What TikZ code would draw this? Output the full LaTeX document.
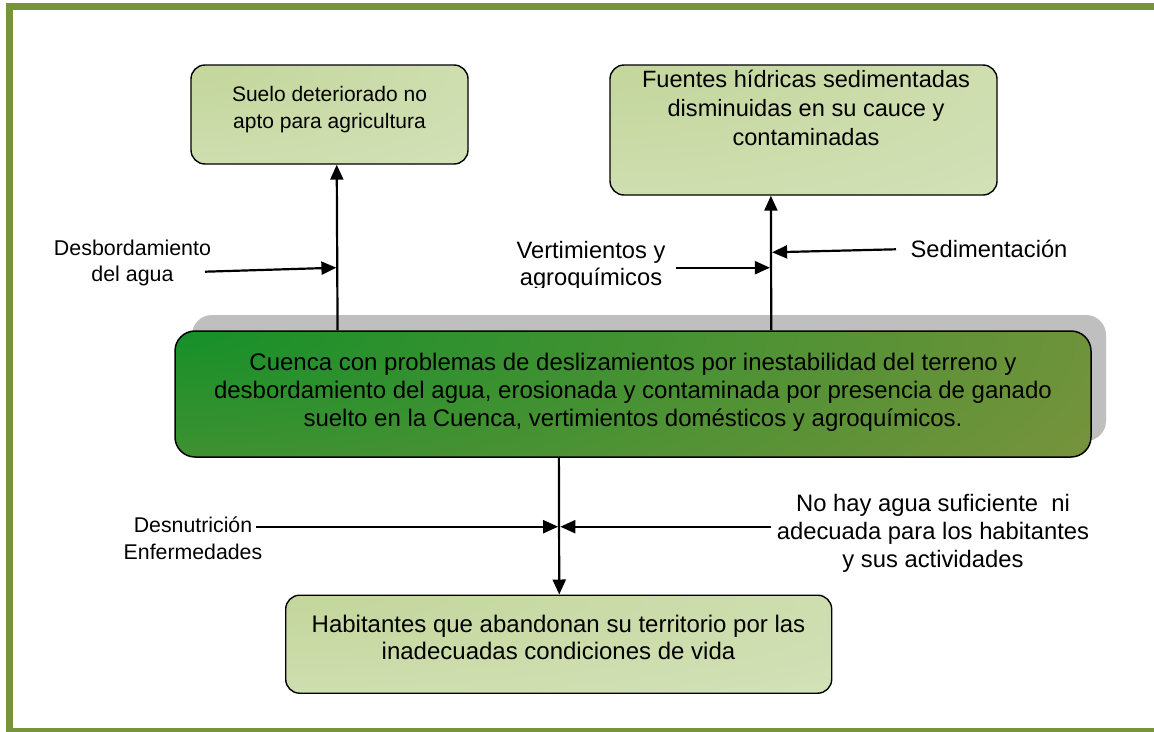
\documentclass[tikz,border=0pt]{standalone}
\usepackage{fontspec}
\setmainfont{Liberation Sans}
\usetikzlibrary{arrows.meta,calc}
\definecolor{frameg}{HTML}{77933C}
\definecolor{boxin}{HTML}{C3D69B}
\definecolor{boxout}{HTML}{DAE6C4}
\definecolor{mainin}{HTML}{169029}
\definecolor{mainout}{HTML}{77933C}
\definecolor{shadowg}{HTML}{BFBFBF}
\newcommand{\mytext}[3]{\parbox[t]{1000pt}{\centering\fontsize{#1}{#2}\selectfont #3}}
\tikzset{
  lightbox/.style args={#1 and #2}{draw=black, line width=1.4pt, rounded corners=14pt, inner sep=0pt,
    path picture={\shade[inner color=boxin, outer color=boxout]
      (path picture bounding box.north west) ellipse (#1 and #2);}},
  mainbox/.style={draw=black, line width=1.5pt, rounded corners=20pt, inner sep=0pt,
    path picture={\shade[inner color=mainin, outer color=mainout]
      (path picture bounding box.north west) ellipse (1000pt and 300pt);}},
  shadowbox/.style={fill=shadowg, rounded corners=20pt, inner sep=0pt},
  lbl/.style={anchor=base, inner sep=0pt, text=black},
  arr/.style={line width=2.2pt, -{Triangle[length=15pt,width=13pt]}},
}
\begin{document}
\begin{tikzpicture}[x=1pt,y=-1pt]
\useasboundingbox (0,0) rectangle (1154,731);
\begin{scope}
\clip (0,0) rectangle (1154,731);
\fill[white] (0,0) rectangle (1154,731);
% frame
\draw[frameg, line width=7pt, line join=miter] (1160,6.5) -- (9.5,6.5) -- (9.5,731.5) -- (1160,731.5);

% shadow and boxes
\node[shadowbox, minimum width=914pt, minimum height=126pt] (mainshadow) at (649,378) {};
\node[mainbox, minimum width=916pt, minimum height=126pt] (main) at (633,394) {};
\node[lightbox=554pt and 198pt, minimum width=277pt, minimum height=99pt] (box1) at (329.5,114.5) {};
\node[lightbox=774pt and 260pt, minimum width=387pt, minimum height=130pt] (box2) at (803.5,130) {};
\node[lightbox=1092pt and 196pt, minimum width=546pt, minimum height=98pt] (box3) at (558.7,644.2) {};

% box texts
\node[lbl] (t1) at (329.5,101.7) {\mytext{21}{26.3}{Suelo deteriorado no\\apto para agricultura}};
\node[lbl] (t2) at (806,87.3) {\mytext{23.6}{29}{Fuentes hídricas sedimentadas\\disminuidas en su cauce y\\contaminadas}};
\node[lbl] (tm) at (633,370) {\mytext{24}{28}{Cuenca con problemas de deslizamientos por inestabilidad del terreno y\\desbordamiento del agua, erosionada y contaminada por presencia de ganado\\suelto en la Cuenca, vertimientos domésticos y agroquímicos.}};
\node[lbl] (t3) at (558.5,632.7) {\mytext{24}{26.6}{Habitantes que abandonan su territorio por las\\inadecuadas condiciones de vida}};

% labels
\node[lbl] (ldes) at (132.5,255) {\mytext{21.4}{26}{Desbordamiento\\del agua}};
\begin{scope}
\clip (450,230) rectangle (720,287.5);
\node[lbl] (lver) at (591,258.3) {\mytext{23.7}{26.7}{Vertimientos y\\agroquímicos}};
\end{scope}
\node[lbl] (lsed) at (989,257.7) {\mytext{23.7}{26.7}{Sedimentación}};
\node[lbl] (lnut) at (193,532.5) {\mytext{21.3}{26.7}{Desnutrición\\Enfermedades}};
\node[lbl] (lagua) at (933,511) {\mytext{23.8}{28.3}{No hay agua suficiente\ \ ni\\adecuada para los habitantes\\y sus actividades}};

% connector ends
\coordinate (a1s) at ($(main.north west)!0.178!(main.north east)$);
\coordinate (a1e) at ($(box1.south west)!0.526!(box1.south east)$);
\coordinate (a2s) at ($(main.north west)!0.6507!(main.north east)$);
\coordinate (a2e) at ($(box2.south west)!0.416!(box2.south east)$);
\coordinate (a3s) at ($(main.south west)!0.4192!(main.south east)$);
\coordinate (a3e) at ($(box3.north west)!0.501!(box3.north east)$);
\coordinate (desS) at (205,271.7);
\coordinate (desE) at (336.4,267.7);
\coordinate (verS) at (676,267.7);
\coordinate (verE) at (769.9,267.7);
\coordinate (sedS) at (896,249.3);
\coordinate (sedE) at (772.1,252.3);
\coordinate (nutS) at (255.8,526.7);
\coordinate (nutE) at (558.1,526.7);
\coordinate (aguS) at (771.4,526.7);
\coordinate (aguE) at (560.3,526.7);

% connectors
\draw[arr] (a1s) -- (a1e);
\draw[arr] (a2s) -- (a2e);
\draw[arr] (a3s) -- (a3e);
\draw[arr] (desS) -- (desE);
\draw[arr] (verS) -- (verE);
\draw[arr] (sedS) -- (sedE);
\draw[arr] (nutS) -- (nutE);
\draw[arr] (aguS) -- (aguE);
\end{scope}
\end{tikzpicture}
\end{document}
